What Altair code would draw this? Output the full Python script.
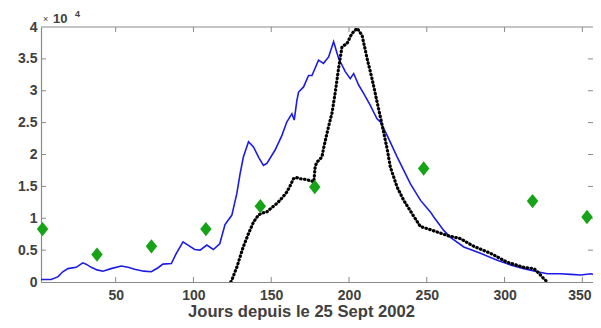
import altair as alt
import pandas as pd

# Blue line (model), values in units of 10^4
blue_day = [2, 8.5, 12.8, 16, 19.3, 24.6, 28.9, 31, 34.3, 38, 41.8, 47, 53.6, 58, 62.2, 68, 72.9, 77,
            80.4, 85.8, 89, 93.3, 97, 100.8, 104.3, 108.6, 112.8, 116.9, 120.3, 124.7, 127.9, 130,
            132.1, 135.4, 138.6, 142, 145, 147.2, 152.5, 156.9, 160, 163.3, 164.8, 166.5, 167.6,
            170.8, 174, 176.2, 180.4, 183.6, 186.9, 190.1, 193.3, 197.6, 200.8, 203, 206.2, 209.4,
            213.7, 218, 220.2, 224.5, 231, 239.5, 246, 252.3, 254.5, 260.9, 265.2, 273.8, 284.5,
            295.3, 306, 312.4, 321, 327.5, 336, 342.5, 349, 355.4, 362]
blue_val = [0.04, 0.04, 0.08, 0.16, 0.21, 0.23, 0.30, 0.28, 0.23, 0.19, 0.17, 0.21, 0.25, 0.23, 0.20,
            0.17, 0.16, 0.22, 0.28, 0.29, 0.45, 0.63, 0.57, 0.51, 0.50, 0.58, 0.51, 0.60, 0.90, 1.05,
            1.39, 1.70, 1.96, 2.20, 2.12, 1.95, 1.83, 1.86, 2.07, 2.30, 2.51, 2.64, 2.54, 2.85, 2.98,
            3.06, 3.24, 3.24, 3.48, 3.43, 3.53, 3.77, 3.51, 3.30, 3.19, 3.27, 3.09, 2.96, 2.77, 2.56,
            2.51, 2.30, 1.96, 1.54, 1.28, 1.10, 1.02, 0.81, 0.70, 0.55, 0.45, 0.34, 0.25, 0.21, 0.16,
            0.13, 0.13, 0.12, 0.11, 0.13, 0.09]

# Black dotted series
black_day = [124, 125, 128, 132, 135.4, 138.6, 141.8, 144, 147.2, 150, 153.6, 157, 160, 162, 164.3,
             166, 168.6, 172, 175.1, 177.4, 178.3, 179.4, 182.6, 183.6, 185.8, 188, 189, 191.2, 193.3,
             195.5, 198.7, 201.9, 205.2, 208.4, 211.6, 214.8, 218, 221.3, 224.5, 226.6, 230.9, 235.2,
             240.6, 245.9, 252.4, 263.1, 271.7, 280.2, 291, 301.7, 312.4, 318.9, 322, 325.3, 327.5]
black_val = [0.0, 0.05, 0.24, 0.55, 0.76, 0.94, 1.05, 1.08, 1.10, 1.16, 1.23, 1.32, 1.41, 1.50, 1.62,
             1.64, 1.62, 1.61, 1.59, 1.57, 1.82, 1.88, 1.96, 2.09, 2.33, 2.55, 2.64, 2.98, 3.35,
             3.69, 3.74, 3.90, 3.98, 3.87, 3.51, 3.19, 2.83, 2.46, 2.09, 1.80, 1.49, 1.28,
             1.07, 0.87, 0.82, 0.73, 0.68, 0.56, 0.45, 0.31, 0.23, 0.21, 0.14, 0.05, 0.0]

# Green diamonds
green_day = [3, 38, 73, 108, 143, 178, 248, 318, 353]
green_val = [0.83, 0.43, 0.56, 0.83, 1.19, 1.49, 1.78, 1.27, 1.02]

x_ticks = [50, 100, 150, 200, 250, 300, 350]
y_ticks = [0, 0.5, 1, 1.5, 2, 2.5, 3, 3.5, 4]
y_inner = [0.5, 1, 1.5, 2, 2.5, 3, 3.5]

W, H = 560, 255
VIS_W = 552  # part of the plot width that fits on the page
XDOM = [2, 362]
YDOM = [0, 4]
FONT = "Liberation Sans"
LABEL = "#404040"
AXC = "#8a8a8a"

blue_df = pd.DataFrame({"d": blue_day, "v": blue_val})
black_df = pd.DataFrame({"d": black_day, "v": black_val})
green_df = pd.DataFrame({"d": green_day, "v": green_val})
xt_df = pd.DataFrame({"d": x_ticks})
yt_df = pd.DataFrame({"v": y_inner})

xs = alt.Scale(domain=XDOM, nice=False, zero=False)
ys = alt.Scale(domain=YDOM, nice=False, zero=False)

xaxis = alt.Axis(values=x_ticks, title="Jours depuis le 25 Sept 2002", grid=False,
                 ticks=False, tickSize=0, labelPadding=6, labelFont=FONT, labelFontSize=14,
                 labelFontWeight="bold", labelColor=LABEL, domainColor=AXC, domainWidth=1.2,
                 labelOffset={"condition": {"test": "datum.value == 350", "value": -3}, "value": 0},
                 titleFont=FONT, titleFontSize=16.6, titleFontWeight="bold", titleColor=LABEL,
                 titleX=260, titleY=34.4, titleBaseline="alphabetic", titleAlign="center",
                 labelFlush=False, labelOverlap=False)
yaxis = alt.Axis(values=y_ticks, title=None, grid=False, ticks=False, tickSize=0,
                 labelPadding=4, labelFont=FONT, labelFontSize=14, labelFontWeight="bold",
                 labelColor=LABEL, domainColor=AXC, domainWidth=1.2, format="~g",
                 labelFlush=False, labelOverlap=False)

X = alt.X("d:Q", scale=xs, axis=xaxis)
Y = alt.Y("v:Q", scale=ys, axis=yaxis)

blue = alt.Chart(blue_df).mark_line(color="#1c1ce6", strokeWidth=1.6, clip=True).encode(x=X, y=Y)

black = alt.Chart(black_df).mark_line(color="#000000", strokeWidth=3.2, strokeDash=[0.5, 3.4],
                                      strokeCap="round", clip=True).encode(x=X, y=Y)

green = alt.Chart(green_df).mark_point(
    shape="M0,-1L0.8,0L0,1L-0.8,0Z", size=205, filled=True, opacity=1,
    color="#17a317").encode(x=X, y=Y)

bottom_ticks = alt.Chart(xt_df).mark_rule(color=AXC, strokeWidth=1).encode(
    x=X, y=alt.value(H), y2=alt.value(H - 5))
top_ticks = alt.Chart(xt_df).mark_rule(color=AXC, strokeWidth=1).encode(
    x=X, y=alt.value(0), y2=alt.value(5))
left_ticks = alt.Chart(yt_df).mark_rule(color=AXC, strokeWidth=1).encode(
    y=Y, x=alt.value(0), x2=alt.value(5))
right_ticks = alt.Chart(yt_df).mark_rule(color=AXC, strokeWidth=1).encode(
    y=Y, x=alt.value(VIS_W - 5), x2=alt.value(VIS_W))
top_line = alt.Chart(pd.DataFrame({"a": [0]})).mark_rule(color=AXC, strokeWidth=1.2).encode(
    x=alt.value(0), x2=alt.value(W), y=alt.value(0))

exp_df = pd.DataFrame({"a": [0]})
times = alt.Chart(exp_df).mark_text(text="×", font=FONT, fontSize=9, color=LABEL,
                                    align="left", baseline="alphabetic").encode(
    x=alt.value(2), y=alt.value(-5))
ten = alt.Chart(exp_df).mark_text(text="10", font=FONT, fontSize=13, fontWeight="bold",
                                  color=LABEL, align="left", baseline="alphabetic").encode(
    x=alt.value(12), y=alt.value(-4))
four = alt.Chart(exp_df).mark_text(text="4", font=FONT, fontSize=9, fontWeight="bold",
                                   color=LABEL, align="left", baseline="alphabetic").encode(
    x=alt.value(34), y=alt.value(-10))

chart = alt.layer(
    blue, top_line, bottom_ticks, top_ticks, left_ticks, right_ticks,
    black, green, times, ten, four
).properties(
    width=W, height=H,
    autosize=alt.AutoSizeParams(type="none"),
    padding={"left": 33, "top": 19, "right": -8, "bottom": 38},
    background="white",
).configure_view(stroke=None)

chart.save("out.html", embed_options={"renderer": "svg", "actions": False})
